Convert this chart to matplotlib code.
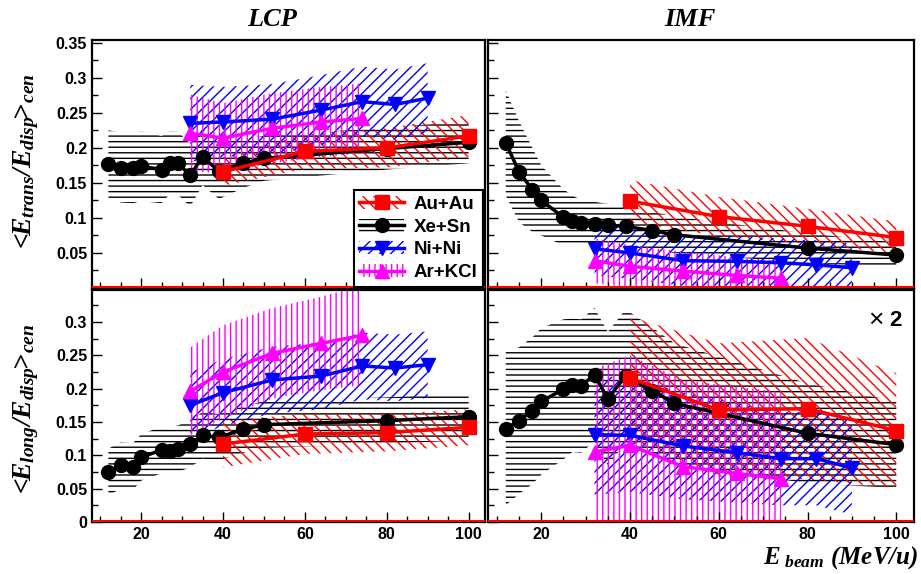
import matplotlib
matplotlib.use("Agg")
import matplotlib.pyplot as plt
from matplotlib.patches import Patch
from matplotlib.lines import Line2D
from matplotlib.ticker import MultipleLocator
import numpy as np

plt.rcParams['font.family'] = ['Liberation Sans', 'DejaVu Sans']
plt.rcParams['mathtext.fontset'] = 'custom'
plt.rcParams['mathtext.it'] = 'Liberation Serif:italic:bold'
plt.rcParams['mathtext.rm'] = 'Liberation Serif:italic:bold'
plt.rcParams['mathtext.bf'] = 'Liberation Serif:italic:bold'
plt.rcParams['hatch.linewidth'] = 1.0

# beam energies (MeV/u)
xe_e = [12, 15, 18, 20, 25, 27, 29, 32, 35, 39, 45, 50, 80, 100]
au_e = [40, 60, 80, 100]
ni_e = [32, 40, 52, 64, 74, 82, 90]
ar_e = [32, 40, 52, 64, 74]

# LCP, transverse
xe_lcp_tr = [0.177, 0.172, 0.171, 0.174, 0.169, 0.179, 0.178, 0.161, 0.187, 0.167, 0.178, 0.185, 0.199, 0.208]
xe_lcp_tr_err = [0.048, 0.05, 0.05, 0.05, 0.048, 0.045, 0.045, 0.045, 0.04, 0.04, 0.035, 0.032, 0.03, 0.03]
au_lcp_tr = [0.166, 0.195, 0.200, 0.217]
au_lcp_tr_err = [0.02, 0.025, 0.028, 0.03]
ni_lcp_tr = [0.235, 0.237, 0.241, 0.254, 0.266, 0.262, 0.271]
ni_lcp_tr_err = [0.055, 0.05, 0.05, 0.05, 0.05, 0.05, 0.05]
ar_lcp_tr = [0.221, 0.214, 0.228, 0.237, 0.242]
ar_lcp_tr_err = [0.055, 0.05, 0.05, 0.05, 0.05]

# IMF, transverse
xe_imf_tr = [0.207, 0.166, 0.140, 0.125, 0.101, 0.096, 0.093, 0.092, 0.090, 0.088, 0.082, 0.076, 0.057, 0.047]
xe_imf_tr_err = [0.075, 0.072, 0.06, 0.05, 0.04, 0.036, 0.033, 0.031, 0.03, 0.029, 0.027, 0.026, 0.021, 0.018]
au_imf_tr = [0.124, 0.102, 0.088, 0.072]
au_imf_tr_err = [0.03, 0.028, 0.025, 0.023]
ni_imf_tr = [0.056, 0.050, 0.039, 0.038, 0.036, 0.033, 0.029]
ni_imf_tr_err = [0.038, 0.037, 0.036, 0.036, 0.035, 0.035, 0.035]
ar_imf_tr = [0.039, 0.031, 0.024, 0.018, 0.014]
ar_imf_tr_err = [0.032, 0.03, 0.028, 0.026, 0.025]

# LCP, longitudinal
xe_lcp_lo = [0.075, 0.085, 0.083, 0.097, 0.108, 0.107, 0.110, 0.117, 0.130, 0.127, 0.139, 0.146, 0.152, 0.158]
xe_lcp_lo_err = [0.035] * 14
au_lcp_lo = [0.117, 0.132, 0.134, 0.142]
au_lcp_lo_err = [0.035, 0.03, 0.028, 0.027]
ni_lcp_lo = [0.175, 0.194, 0.213, 0.219, 0.234, 0.231, 0.236]
ni_lcp_lo_err = [0.05, 0.05, 0.05, 0.05, 0.05, 0.05, 0.05]
ar_lcp_lo = [0.196, 0.225, 0.253, 0.268, 0.280]
ar_lcp_lo_err = [0.066, 0.07, 0.068, 0.07, 0.075]

# IMF, longitudinal (x2)
xe_imf_lo = [0.140, 0.152, 0.167, 0.181, 0.199, 0.205, 0.204, 0.221, 0.185, 0.219, 0.197, 0.178, 0.133, 0.116]
xe_imf_lo_err = [0.115, 0.11, 0.11, 0.11, 0.105, 0.1, 0.1, 0.1, 0.1, 0.1, 0.095, 0.09, 0.075, 0.065]
au_imf_lo = [0.216, 0.168, 0.170, 0.137]
au_imf_lo_err = [0.092, 0.1, 0.106, 0.086]
ni_imf_lo = [0.131, 0.130, 0.114, 0.104, 0.095, 0.095, 0.081]
ni_imf_lo_err = [0.09, 0.085, 0.08, 0.075, 0.07, 0.07, 0.07]
ar_imf_lo = [0.105, 0.115, 0.083, 0.073, 0.065]
ar_imf_lo_err = [0.125, 0.135, 0.13, 0.13, 0.13]

names = ['Au+Au', 'Xe+Sn', 'Ni+Ni', 'Ar+KCl']
colors = ['#ff0000', '#000000', '#0000ff', '#ff00ff']
markers = ['s', 'o', 'v', '^']
hatches = ['\\\\\\', '---', '///', '|||']
energies = [au_e, xe_e, ni_e, ar_e]

panels = {
    'tl': ([au_lcp_tr, xe_lcp_tr, ni_lcp_tr, ar_lcp_tr],
           [au_lcp_tr_err, xe_lcp_tr_err, ni_lcp_tr_err, ar_lcp_tr_err]),
    'tr': ([au_imf_tr, xe_imf_tr, ni_imf_tr, ar_imf_tr],
           [au_imf_tr_err, xe_imf_tr_err, ni_imf_tr_err, ar_imf_tr_err]),
    'bl': ([au_lcp_lo, xe_lcp_lo, ni_lcp_lo, ar_lcp_lo],
           [au_lcp_lo_err, xe_lcp_lo_err, ni_lcp_lo_err, ar_lcp_lo_err]),
    'br': ([au_imf_lo, xe_imf_lo, ni_imf_lo, ar_imf_lo],
           [au_imf_lo_err, xe_imf_lo_err, ni_imf_lo_err, ar_imf_lo_err]),
}

fig = plt.figure(figsize=(9.21, 5.74), dpi=100)
W, H = 921.0, 574.0
pos = {
    'tl': [92 / W, (H - 288) / H, 393 / W, 248 / H],
    'tr': [488 / W, (H - 288) / H, 426 / W, 248 / H],
    'bl': [92 / W, (H - 522) / H, 393 / W, 232 / H],
    'br': [488 / W, (H - 522) / H, 426 / W, 232 / H],
}
ylims = {'tl': 0.354, 'tr': 0.354, 'bl': 0.348, 'br': 0.348}


def fmt_top(v, p):
    return '' if v < 0.01 else '%g' % round(v, 3)


def fmt_bottom(v, p):
    return '' if v > 0.33 else '%g' % round(v, 3)


axes = {}
for key in ['tl', 'tr', 'bl', 'br']:
    ax = fig.add_axes(pos[key])
    axes[key] = ax
    vals, errs = panels[key]
    # hatched bands first, then the lines with markers
    for i in [1, 0, 2, 3]:
        x = np.array(energies[i])
        y = np.array(vals[i])
        e = np.array(errs[i])
        ax.fill_between(x, y - e, y + e, facecolor='none', edgecolor=colors[i],
                        hatch=hatches[i], linewidth=0)
    for i in [1, 0, 2, 3]:
        ax.plot(energies[i], vals[i], color=colors[i], marker=markers[i], ms=10,
                lw=2.5, zorder=5)
    ax.axhline(0.0015, color='red', lw=1.5, zorder=6)
    ax.set_xlim(8, 104)
    ax.set_ylim(0, ylims[key])
    for s in ax.spines.values():
        s.set_linewidth(1.6)
    ax.xaxis.set_major_locator(MultipleLocator(20))
    ax.xaxis.set_minor_locator(MultipleLocator(5))
    ax.yaxis.set_major_locator(MultipleLocator(0.05))
    ax.yaxis.set_minor_locator(MultipleLocator(0.025))
    ax.tick_params(which='both', direction='in', top=False, right=False,
                   labelsize=11.5)
    ax.tick_params(which='major', length=7, width=1)
    ax.tick_params(which='minor', length=4, width=1)
    if key in ('tl', 'tr'):
        ax.yaxis.set_major_formatter(plt.FuncFormatter(fmt_top))
        ax.set_xticklabels([])
    else:
        ax.yaxis.set_major_formatter(plt.FuncFormatter(fmt_bottom))
    if key in ('tr', 'br'):
        ax.set_yticklabels([])
    for lab in ax.get_xticklabels() + ax.get_yticklabels():
        lab.set_fontweight('bold')

# legend
handles = []
for i in range(4):
    patch = Patch(facecolor='none', edgecolor=colors[i], hatch=hatches[i], linewidth=0)
    line = Line2D([], [], color=colors[i], marker=markers[i], ms=10, lw=2.5)
    handles.append((patch, line))
leg = axes['tl'].legend(handles, names, loc='lower right', bbox_to_anchor=(0.995, 0.005),
                        borderaxespad=0, fancybox=False, framealpha=1, edgecolor='black',
                        prop={'weight': 'bold', 'size': 13.5}, handlelength=2.4,
                        labelspacing=0.3, handletextpad=0.5, borderpad=0.3)
leg.get_frame().set_linewidth(1.5)
leg.set_zorder(10)

axes['br'].text((876 - 488) / 426, (522 - 320) / 232, '\u00d7', transform=axes['br'].transAxes,
                fontsize=19, ha='center', va='center')
axes['br'].text((895 - 488) / 426, (522 - 320) / 232, '2', transform=axes['br'].transAxes,
                fontsize=16, fontweight='bold', ha='center', va='center')

serif = dict(family='Liberation Serif', style='italic', weight='bold')
fig.text(272 / W, 1 - 20 / H, 'LCP', fontsize=19, ha='center', va='center', **serif)
fig.text(690 / W, 1 - 20 / H, 'IMF', fontsize=19, ha='center', va='center', **serif)

fig.text(26 / W, 1 - 163 / H, r'$<\!\!E_{trans}/E_{disp}\!\!>\!{}_{cen}$', fontsize=20,
         rotation=90, ha='center', va='center')
fig.text(26 / W, 1 - 411 / H, r'$<\!\!E_{long}/E_{disp}\!\!>\!{}_{cen}$', fontsize=20,
         rotation=90, ha='center', va='center')
fig.text(918 / W, 1 - 564 / H, r'$E_{\ beam}\ (MeV/u)$', fontsize=18,
         ha='right', va='baseline')

fig.savefig('out.png', dpi=100)
